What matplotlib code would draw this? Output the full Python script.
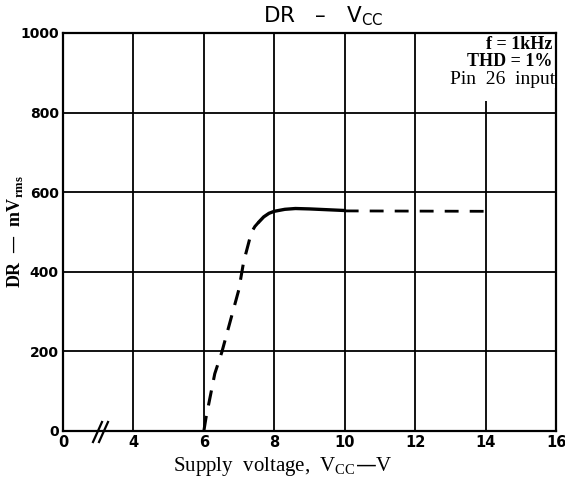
import numpy as np
import matplotlib
matplotlib.use("Agg")
import matplotlib.pyplot as plt
from matplotlib.patches import Rectangle

# Data
rise_v = [6.0, 6.06, 6.31, 6.51, 6.99, 7.13, 7.35, 7.45, 7.55]
rise_dr = [0, 33, 144, 198, 354, 425, 499, 514, 524]
solid_v = [7.55, 7.7, 7.85, 8.0, 8.3, 8.6, 9.0, 9.5, 10.0]
solid_dr = [524, 538, 547, 552, 557, 559, 558, 556, 554]
flat_v = [10.0, 14.0]
flat_dr = [553, 552]
xticks = [0, 4, 6, 8, 10, 12, 14, 16]
yticks = [0, 200, 400, 600, 800, 1000]


def fwd(x):
    x = np.asarray(x, dtype=float)
    return np.where(x < 4, x / 4.0, (x - 4) / 2.0 + 1)


def inv(p):
    p = np.asarray(p, dtype=float)
    return np.where(p < 1, p * 4.0, (p - 1) * 2.0 + 4)


W, H = 565, 484
L, R, T, B = 63, 556, 33, 431
fig = plt.figure(figsize=(W / 100, H / 100), dpi=100)
ax = fig.add_axes([L / W, 1 - B / H, (R - L) / W, (B - T) / H])
ax.set_xscale("function", functions=(fwd, inv))
ax.set_xlim(0, 16)
ax.set_ylim(0, 1000)
ax.set_xticks(xticks)
ax.set_yticks(yticks)
ax.set_xticklabels([str(t) for t in xticks], fontsize=10.5, fontweight="bold")
ax.set_yticklabels([str(t) for t in yticks], fontsize=10, fontweight="bold")
ax.tick_params(length=0, pad=3)
ax.grid(True, color="black", linewidth=1.3)
ax.set_axisbelow(True)
for s in ax.spines.values():
    s.set_linewidth(1.6)


def axpt(px, py):
    return ((px - L) / (R - L), (B - py) / (B - T))


# white area behind the condition text
ax.add_patch(Rectangle((12.3, 830), 3.7, 170, facecolor="white", edgecolor="none", zorder=1.5))

ax.plot(rise_v, rise_dr, color="black", lw=2.2, dashes=(5, 3.5), zorder=3)
ax.plot(solid_v, solid_dr, color="black", lw=2.4, solid_capstyle="round", zorder=3)
ax.plot(flat_v, flat_dr, color="black", lw=2.0, dashes=(5, 4), zorder=3)

# axis break mark
for off in (0, 6):
    (x0, y0), (x1, y1) = axpt(93 + off, 442), axpt(102 + off, 422)
    ax.plot([x0, x1], [y0, y1], transform=ax.transAxes, color="black", lw=1.6,
            clip_on=False, zorder=4)

ax.text(15.9, 972, "f = 1kHz", ha="right", va="center", fontsize=13,
        fontweight="bold", family="Liberation Serif", zorder=4)
ax.text(15.9, 928, "THD = 1%", ha="right", va="center", fontsize=13,
        fontweight="bold", family="Liberation Serif", zorder=4)
ax.text(15.97, 884, "Pin  26  input", ha="right", va="center", fontsize=14,
        family="Liberation Serif", zorder=4,
        bbox=dict(facecolor="white", edgecolor="none", pad=0.3))

fig.text(323 / W, 1 - 16 / H, r"DR   –   V$_{\mathregular{CC}}$", ha="center", va="center",
         fontsize=15.5, fontweight="medium")
fig.text(283 / W, 1 - 466 / H, r"Supply  voltage,  V$_{\mathregular{CC}}$—V", ha="center",
         va="center", fontsize=15, family="Liberation Serif")
fig.text(15 / W, 1 - 232 / H, r"DR  —  mV$_{\mathregular{rms}}$", ha="center",
         va="center", fontsize=13, fontweight="bold", rotation=90,
         family="Liberation Serif")

fig.savefig("out.png", dpi=100, facecolor="white")
